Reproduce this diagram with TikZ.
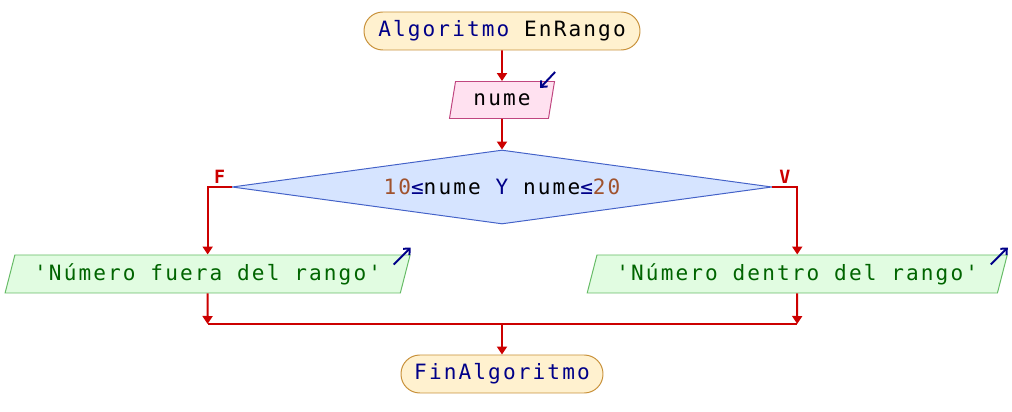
\documentclass[tikz,border=0pt]{standalone}
\usepackage{fontspec}
\setmonofont{DejaVu Sans Mono}[LetterSpace=10]
\usetikzlibrary{shapes.geometric,arrows.meta}
\definecolor{kw}{HTML}{000088}
\definecolor{num}{HTML}{A0522D}
\definecolor{flowred}{HTML}{CC0000}
\definecolor{termfill}{HTML}{FFF1CF}
\definecolor{termline}{HTML}{C8913A}
\definecolor{infill}{HTML}{FFE1F0}
\definecolor{inline}{HTML}{C0457F}
\definecolor{condfill}{HTML}{D6E4FF}
\definecolor{condline}{HTML}{4462C8}
\definecolor{outfill}{HTML}{E1FCE1}
\definecolor{outline}{HTML}{66BB66}
\definecolor{outtext}{HTML}{006400}
\begin{document}
\begin{tikzpicture}[font=\ttfamily\fontsize{15}{17}\selectfont,
    term/.style={draw=termline,fill=termfill,line width=0.7pt,rounded corners=0.47cm,minimum height=0.95cm,minimum width=6.9cm},
    inbox/.style={trapezium,trapezium left angle=68,trapezium right angle=112,trapezium stretches body,draw=inline,fill=infill,line width=0.7pt,minimum height=0.925cm,minimum width=2.625cm,inner sep=1pt},
    outbox/.style={trapezium,trapezium left angle=68,trapezium right angle=112,trapezium stretches body,draw=outline,fill=outfill,line width=0.7pt,minimum height=0.95cm,inner sep=1pt,text=outtext},
    cond/.style={diamond,aspect=7.3,draw=condline,fill=condfill,line width=0.7pt,minimum width=13.5cm,minimum height=1.85cm,inner sep=0pt},
    flow/.style={-{Triangle[length=0.2cm,width=0.25cm]},flowred,line width=1.4pt},
    joint/.style={flowred,line width=1.4pt},
    ioarr/.style={-{Straight Barb[length=0.12cm,width=0.22cm]},kw,line width=1.4pt},
    lbl/.style={flowred,font=\ttfamily\bfseries\fontsize{13}{15}\selectfont,inner sep=2pt}]
    \useasboundingbox (0,0) rectangle (25.3,10.3);

    \node[term](ini)at(12.55,9.525){\textcolor{kw}{Algoritmo} EnRango};
    \node[inbox](inp)at(12.55,7.8){nume};
    \node[cond](dec)at(12.55,5.625){\textcolor{num}{10}\textcolor{kw}{≤}nume \textcolor{kw}{Y} nume\textcolor{kw}{≤}\textcolor{num}{20}};
    \node[outbox,minimum width=10.125cm](outL)at(5.19,3.45){'Número fuera del rango'};
    \node[outbox,minimum width=10.5cm](outR)at(19.93,3.45){'Número dentro del rango'};
    \coordinate(jn)at(12.55,2.2);
    \node[term,minimum width=5.05cm](fin)at(12.55,0.95){\textcolor{kw}{FinAlgoritmo}};

    \draw[flow](ini)--(inp);
    \draw[flow](inp)--(dec);
    \draw[flow](dec.west)-|node[lbl,above,pos=0.25]{F}(outL.north);
    \draw[flow](dec.east)-|node[lbl,above,pos=0.25]{V}(outR.north);
    \draw[flow](outL)--(outL|-jn);
    \draw[flow](outR)--(outR|-jn);
    \draw[joint](outL|-jn)--(outR|-jn);
    \draw[flow](jn)--(fin);

    \draw[ioarr]([yshift=0.225cm]inp.top right corner)--++(-0.375,-0.4);
    \draw[ioarr]([shift={(-0.425,-0.25)}]outL.top right corner)--++(0.425,0.425);
    \draw[ioarr]([shift={(-0.425,-0.25)}]outR.top right corner)--++(0.425,0.425);
\end{tikzpicture}
\end{document}
